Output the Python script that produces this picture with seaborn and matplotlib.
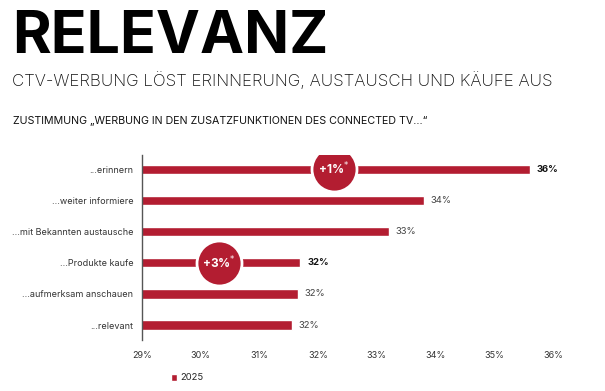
import pandas as pd
import seaborn as sns
from matplotlib import pyplot as plt

categories = ["...erinnern", "...weiter informiere", "...mit Bekannten austausche",
              "...Produkte kaufe", "...aufmerksam anschauen", "...relevant"]
values = [35.6, 33.8, 33.2, 31.7, 31.65, 31.55]
value_labels = ["36%", "34%", "33%", "32%", "32%", "32%"]
bold_labels = [True, False, False, True, False, False]
badge_text = ["+1%$^{*}$", "+3%$^{*}$"]
badge_row = [0, 3]
badge_x = [32.27, 30.31]
x_ticks = [29, 30, 31, 32, 33, 34, 35, 36]
series_name = "2025"

RED = "#B31D31"

sns.set_theme(style="white")
plt.rcParams['font.family'] = ['Inter', 'DejaVu Sans']

df = pd.DataFrame({"cat": categories, "val": values})

fig = plt.figure(figsize=(6.05, 3.91), dpi=100)
ax = fig.add_axes([0.2342, 0.1304, 0.6803, 0.4732])

sns.barplot(data=df, x="val", y="cat", color=RED, width=0.3, saturation=1,
            label=series_name, ax=ax)

ax.set_xlim(29, 36)
ax.set_ylim(5.48, -0.46)
ax.set_xticks(x_ticks)
ax.set_xticklabels([f"{t}%" for t in x_ticks], fontsize=6.5, color="#333333")
ax.tick_params(axis="y", labelsize=6.5, labelcolor="#333333", pad=6, length=0)
ax.tick_params(axis="x", length=0, pad=8)
ax.set_xlabel("")
ax.set_ylabel("")
for s in ["top", "right", "bottom"]:
    ax.spines[s].set_visible(False)
ax.spines["left"].set_color("#555555")
ax.spines["left"].set_linewidth(1)

for i, (v, lab, b) in enumerate(zip(values, value_labels, bold_labels)):
    ax.annotate(lab, (v, i), xytext=(5, 0), textcoords="offset points",
                va="center", ha="left", fontsize=6.8,
                fontweight="bold" if b else "normal",
                color="#111111" if b else "#444444")

for txt, r, x in zip(badge_text, badge_row, badge_x):
    ax.scatter([x], [r], s=1050, color=RED, edgecolor="white", linewidth=2.0, zorder=5)
    ax.text(x, r, txt, ha="center", va="center", color="white", fontsize=8.5,
            fontweight="bold", zorder=6)

ax.legend(loc="lower left", bbox_to_anchor=(0.268, 0.0), bbox_transform=fig.transFigure,
          frameon=False, fontsize=6.8, handlelength=0.7, handleheight=0.7,
          handletextpad=0.3)

fig.text(12 / 605, 1 - 10 / 391, "RELEVANZ", fontsize=42.5, fontweight="bold",
         va="top", ha="left", color="black")
fig.text(12 / 605, 1 - 86 / 391, "CTV-WERBUNG LÖST ERINNERUNG, AUSTAUSCH UND KÄUFE AUS",
         fontsize=12.2, fontweight="light", va="baseline", ha="left", color="#111111")
fig.text(13 / 605, 1 - 124.5 / 391,
         "ZUSTIMMUNG „WERBUNG IN DEN ZUSATZFUNKTIONEN DES CONNECTED TV…“",
         fontsize=7.7, va="baseline", ha="left", color="#111111")

plt.savefig("out.png", dpi=100)
